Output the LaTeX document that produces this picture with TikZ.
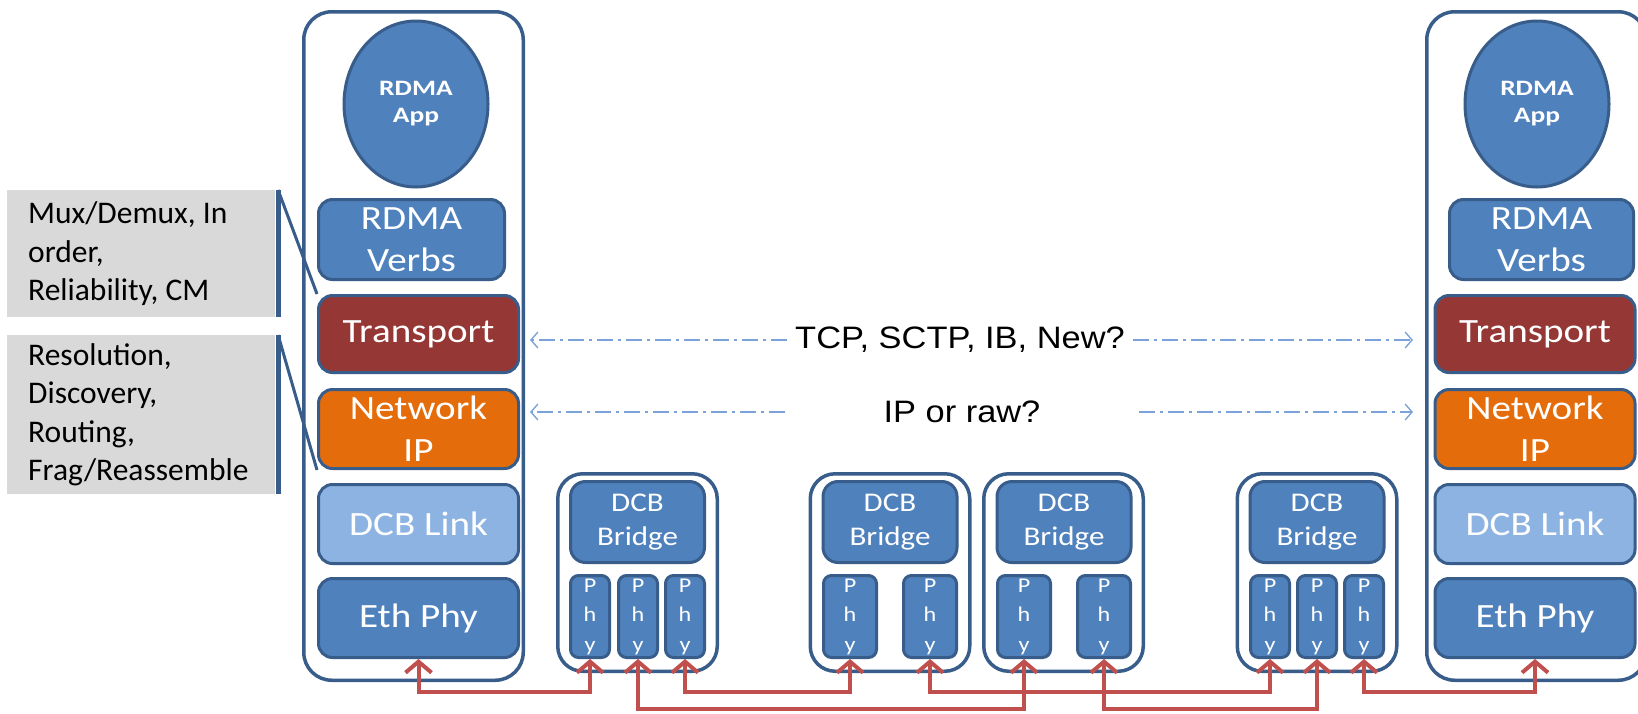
\documentclass[tikz,border=0pt]{standalone}
\usepackage{fontspec}
\setmainfont{Carlito}
\newfontfamily\wfont[FakeStretch=1.15]{Carlito}
\newfontfamily\efont[FakeStretch=1.25]{Carlito}
\newfontfamily\afont[FakeStretch=1.11]{Liberation Sans}
\usetikzlibrary{shapes.geometric,arrows.meta}
\definecolor{boxblue}{HTML}{4F81BD}
\definecolor{edgeblue}{HTML}{385D8A}
\definecolor{transred}{HTML}{953735}
\definecolor{netorange}{HTML}{E46C0A}
\definecolor{linkblue}{HTML}{8DB3E2}
\definecolor{graybox}{HTML}{D9D9D9}
\definecolor{redcon}{HTML}{C0504D}
\definecolor{dashblue}{HTML}{7BA3D9}
\frenchspacing
\begin{document}
\begin{tikzpicture}[x=1pt,y=-1pt,
  host/.style={draw=edgeblue, line width=3.5pt, fill=white, rounded corners=28pt, inner sep=0pt,
    minimum width=219.5pt, minimum height=668.5pt},
  app/.style={ellipse, draw=edgeblue, line width=3pt, fill=boxblue, inner sep=0pt,
    minimum width=144pt, minimum height=166pt, text=white, align=center,
    font=\efont\bfseries\fontsize{22}{27}\selectfont},
  layer/.style={draw=edgeblue, line width=3pt, rounded corners=14pt, inner sep=0pt,
    text=white, align=center, font=\wfont\fontsize{34}{42}\selectfont,
    minimum width=200pt, minimum height=79pt, fill=boxblue},
  bridgebox/.style={draw=edgeblue, line width=3.5pt, fill=white, rounded corners=25pt,
    inner sep=0pt, minimum width=159.5pt, minimum height=197.5pt},
  bridgein/.style={draw=edgeblue, line width=3pt, fill=boxblue, rounded corners=15pt,
    inner sep=0pt, minimum width=134pt, minimum height=81pt, text=white, align=center,
    font=\wfont\fontsize{27}{34}\selectfont},
  phybox/.style={draw=edgeblue, line width=3pt, fill=boxblue, rounded corners=8pt,
    inner sep=0pt, minimum height=82pt, text=white, align=center,
    font=\wfont\fontsize{21}{29.5}\selectfont},
  narrow/.style={phybox, minimum width=39pt},
  wide/.style={phybox, minimum width=53pt},
  gtext/.style={fill=graybox, inner xsep=21pt, inner ysep=0pt, text width=226pt,
    align=flush left, anchor=north west, font=\fontsize{31.5}{38.5}\selectfont},
  gbar/.style={fill=edgeblue, inner sep=0pt, minimum width=5pt, anchor=north west},
  callout/.style={draw=edgeblue, line width=3pt},
  lbl/.style={font=\afont\fontsize{31}{36}\selectfont, text=black, inner ysep=2pt},
  dasharr/.style={draw=dashblue, line width=1.6pt, dash pattern=on 16pt off 5pt on 3pt off 5pt,
    arrows={-Straight Barb[length=7pt,width=16pt,line width=1.4pt]}},
  redc/.style={draw=redcon, line width=4pt, line join=miter,
    arrows={Straight Barb[length=11pt,width=26pt]-Straight Barb[length=11pt,width=26pt]}}
]
\useasboundingbox (0,0) rectangle (1638,713);

% ---------- left host ----------
\node[host] (lhost) at (413.5,346) {};
\node[app] (lapp) at (416,104) {RDMA\\App};
\node[layer, minimum width=186pt, minimum height=80pt] (lverbs) at (411.5,239.5) {RDMA\\Verbs};
\node[layer, fill=transred, minimum height=77pt] (ltrans) at (418.5,334) {Transport};
\node[layer, fill=netorange] (lnet) at (418.5,429) {Network\\IP};
\node[layer, fill=linkblue] (llink) at (418.5,524) {DCB Link};
\node[layer] (leth) at (418.5,618) {Eth Phy};

% ---------- right host ----------
\node[host] (rhost) at (1536.5,346) {};
\node[app] (rapp) at (1537,104) {RDMA\\App};
\node[layer, minimum width=184pt, minimum height=80pt] (rverbs) at (1541.5,239.5) {RDMA\\Verbs};
\node[layer, fill=transred, minimum height=77pt] (rtrans) at (1535,334) {Transport};
\node[layer, fill=netorange] (rnet) at (1535,429) {Network\\IP};
\node[layer, fill=linkblue] (rlink) at (1535,524) {DCB Link};
\node[layer] (reth) at (1535,618) {Eth Phy};

% ---------- gray annotation boxes ----------
\node[gtext, minimum height=127pt] (g1) at (7,190) {Mux/Demux, In\\order,\\Reliability, CM};
\node[gbar, minimum height=127pt] (bar1) at (g1.north east) {};
\node[gtext, minimum height=159pt] (g2) at (7,335) {Resolution,\\Discovery,\\Routing,\\Frag/Reassemble};
\node[gbar, minimum height=159pt] (bar2) at (g2.north east) {};
\draw[callout] (bar1.north) -- (ltrans.north west);
\draw[callout] (bar2.north) -- (lnet.south west);

% ---------- bridges ----------
\node[bridgebox] (b1) at (637.5,572.5) {};
\node[bridgein] (b1br) at (637.5,522) {DCB\\Bridge};
\node[narrow] (b1p1) at (590,616.5) {P\\h\\y};
\node[narrow] (b1p2) at (638,616.5) {P\\h\\y};
\node[narrow] (b1p3) at (685,616.5) {P\\h\\y};

\node[bridgebox] (b2) at (890,572.5) {};
\node[bridgein] (b2br) at (890,522) {DCB\\Bridge};
\node[wide] (b2p1) at (850,616.5) {P\\h\\y};
\node[wide] (b2p2) at (930,616.5) {P\\h\\y};

\node[bridgebox] (b3) at (1063.5,572.5) {};
\node[bridgein] (b3br) at (1064,522) {DCB\\Bridge};
\node[wide] (b3p1) at (1024,616.5) {P\\h\\y};
\node[wide] (b3p2) at (1104,616.5) {P\\h\\y};

\node[bridgebox] (b4) at (1317,572.5) {};
\node[bridgein] (b4br) at (1317,522) {DCB\\Bridge};
\node[narrow] (b4p1) at (1270,616.5) {P\\h\\y};
\node[narrow] (b4p2) at (1317,616.5) {P\\h\\y};
\node[narrow] (b4p3) at (1364,616.5) {P\\h\\y};

% ---------- protocol labels and dash-dot arrows ----------
\node[lbl, inner xsep=8pt] (tcp) at (960,340) {TCP, SCTP, IB, New?};
\draw[dasharr, shorten >=5pt] (tcp.west) -- (tcp.west -| lhost.east);
\draw[dasharr, shorten >=12pt] (tcp.east) -- (tcp.east -| rhost.west);
\node[lbl, inner xsep=98pt] (ip) at (962,412) {IP or raw?};
\draw[dasharr, shorten >=5pt] (ip.west) -- (ip.west -| lhost.east);
\draw[dasharr, shorten >=12pt] (ip.east) -- (ip.east -| rhost.west);

% ---------- red physical links ----------
\coordinate (up) at (0,692);
\coordinate (lo) at (0,709);
\draw[redc] (leth.south) -- (leth.south |- up) -- (b1p1.south |- up) -- (b1p1.south);
\draw[redc] (b1p2.south) -- (b1p2.south |- lo) -- (b3p1.south |- lo) -- (b3p1.south);
\draw[redc] (b1p3.south) -- (b1p3.south |- up) -- (b2p1.south |- up) -- (b2p1.south);
\draw[redc] (b2p2.south) -- (b2p2.south |- up) -- (b4p1.south |- up) -- (b4p1.south);
\draw[redc] (b3p2.south) -- (b3p2.south |- lo) -- (b4p2.south |- lo) -- (b4p2.south);
\draw[redc] (b4p3.south) -- (b4p3.south |- up) -- (reth.south |- up) -- (reth.south);
\end{tikzpicture}
\end{document}
